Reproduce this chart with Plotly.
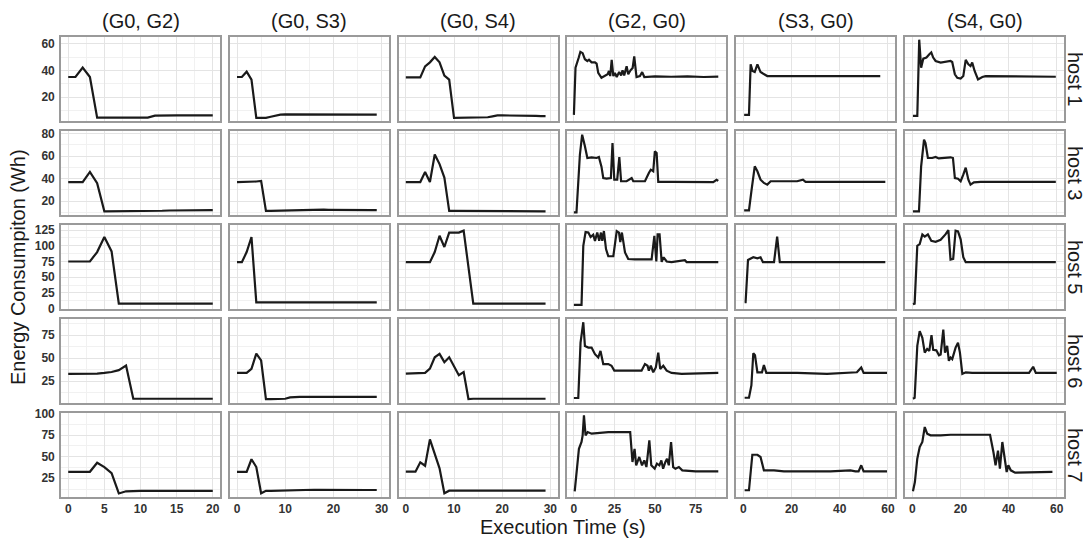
import plotly.graph_objects as go

# ---------------- data ----------------
col_titles = ["(G0, G2)", "(G0, S3)", "(G0, S4)", "(G2, G0)", "(S3, G0)", "(S4, G0)"]
row_titles = ["host 1", "host 3", "host 5", "host 6", "host 7"]

# (G0, G2)
t_g0g2 = [0,1,2,3,4,5,6,7,8,9,10,11,12,13,14,15,16,17,18,19,20]
e_g0g2_h1 = [35,35,42,35,4.5,4.5,4.5,4.5,4.5,4.5,4.5,4.5,6,6.2,6.2,6.2,6.2,6.2,6.2,6.2,6.2]
e_g0g2_h3 = [37,37,37,46,36,11,11,11,11,11,11,11.3,11.5,11.5,11.7,11.8,12,12,12,12,12]
e_g0g2_h5 = [75,75,75,75,90,114,91,8,8,8,8,8,8,8,8,8,8,8,8,8,8]
e_g0g2_h6 = [33,33,33,33,33.3,34,35,37,42,6,6,6,6,6,6,6,6,6,6,6,6]
e_g0g2_h7 = [32.5,32.5,32.5,32.5,43,38,31,7.5,10,10.5,10.5,10.5,10.5,10.5,10.5,10.5,10.5,10.5,10.5,10.5,10.5]

# (G0, S3)
t_g0s3 = [0,1,2,3,4,5,6,7,8,9,10,11,12,13,14,15,16,17,18,19,20,21,22,23,24,25,26,27,28,29]
e_g0s3_h1 = [35,35,39,33,4.3,4.3,4.3,5.2,6.2,6.8,7,7,7,7,7,7,7,7,7,7,7,7,6.8,6.8,6.6,6.5,6.5,6.5,6.8,6.8]
e_g0s3_h3 = [37,37,37,37,37.5,38,11.3,11.3,11.4,11.5,11.8,12,12.2,12.4,12.5,12.5,12.5,12.5,12.4,12.3,12.2,12.1,12,12,12,12,12,12,12,12]
e_g0s3_h5 = [74,74,90,114,10,10,10,10,10,10,10,10,10,10,10,10,10,10,10,10,10,10,10,10,10,10,10,10,10,10]
e_g0s3_h6 = [34,34,34,38.5,55,47.5,5.7,5.7,5.7,5.8,6,7.5,8,8,8,8,8,8,8,8,8,8,8,8,8,8,8,8,8,8]
e_g0s3_h7 = [32.5,32.5,32.5,47,38,7.7,10.5,10.5,10.7,10.8,11,11.2,11.5,11.8,12,12,11.8,11.7,11.6,11.5,11.5,11.5,11.5,11.5,11.5,11.5,11.5,11.5,11.5,11.5]

# (G0, S4)
t_g0s4 = [0,1,2,3,4,5,6,7,8,9,10,11,12,13,14,15,16,17,18,19,20,21,22,23,24,25,26,27,28,29]
e_g0s4_h1 = [34.7,34.7,34.7,34.7,43,46,50,46,36,33,4.3,4.3,4.3,4.3,4.3,4.3,4.5,4.8,5.5,6.2,6.2,6.2,6.2,6.2,6.2,6.1,6,5.8,5.6,5.6]
e_g0s4_h3 = [37,37,37,37,46,37,61.5,53,41,11.3,11.3,11.3,11.4,11.4,11.5,11.5,11.5,11.5,11.5,11.5,11.5,11.5,11.4,11.4,11.3,11.3,11.2,11.1,11,11]
e_g0s4_h5 = [74,74,74,74,74,74,90,116,98,121,121,121,124,66,8,8,8,8,8,8,8,8,8,8,8,8,8,8,8,8]
e_g0s4_h6 = [33.3,33.3,33.3,33.3,34,38.6,51,54.7,45.7,51,42,31.5,35,5.7,6,6,6,6,6,6,6,6,6,6,6,6,6,6,6,6]
e_g0s4_h7 = [32.6,32.6,32.6,43.5,39.5,70,52,36.5,7.7,10.7,10.7,10.7,10.7,10.7,10.7,10.7,10.7,10.7,10.7,10.7,10.7,10.7,10.7,10.7,10.7,10.7,10.7,10.7,10.7,10.7]

# (G2, G0)
t_g2g0_h1 = [0,1,3,4,5.4,6.8,8.3,9.3,10.9,13,14,15,17,19,20.8,21.6,22.4,23.3,24.3,25.3,26.4,27.9,29.1,30,31,32.5,33.5,34.9,36.2,37.2,38.6,40.7,42.1,43.4,50,60,70,80,89]
e_g2g0_h1 = [6.6,42,49.6,53.9,52.9,48.3,47,48,46,46,45,38.2,34.4,35.7,37,39.5,35.7,47.9,35.7,38,35,38.7,36.2,40,36.2,43.1,37,40,41.8,50.4,35,35.7,38.7,35,35.5,35.2,35.5,35,35.3]
t_g2g0_h3 = [0,1.6,3.7,5.1,6.8,8.3,10.9,14,15.4,17,18.1,20.1,22.8,23.8,24.9,26.7,28,29.1,32.5,35.6,36.6,43.8,46.2,47.4,48.9,49.9,51,52,60.2,74.6,85.9,87.9,89]
e_g2g0_h3 = [10.1,10.1,61.3,79.1,68.8,58.4,58.9,58.4,59.3,50.7,40.6,40,40.6,71.7,39.1,39.1,59.3,37.7,37.7,40.6,37.7,37.7,45,48,46.6,64.3,62.8,37.1,37.1,37,37,39,38]
t_g2g0_h5 = [0,4.7,5.8,7.2,8.9,10.3,11.9,13,14.4,15.6,16.7,17.5,18.5,19.8,21.2,24.3,26.4,27.8,28.6,29.6,31.5,33.5,37.6,47.9,49.6,50.8,51.6,52.8,54.1,55.3,57.2,60.2,68.4,69.5,82.8,89]
e_g2g0_h5 = [6.2,6.2,100,121.9,121,114,117.6,107.8,121,108,121,107.8,123.4,94.7,83.3,83.3,123.4,121,106,121,89.5,79,78.5,78.5,115.6,75,118,118,74.5,81.7,75,74,77,74,74,74]
t_g2g0_h6 = [0,2.7,4.1,5.8,6.8,8.9,10.9,13,15,16.4,18.1,21.2,23.2,24.9,33.5,41.7,43.8,45.4,46.2,47.4,48.9,50.5,52,53.2,55.1,57.2,60.2,66.4,89]
e_g2g0_h6 = [6.8,6.8,66.8,89,63.3,61.5,61.5,54.3,50.7,57.9,43.6,43.6,41.8,36.5,36.5,36.5,43.6,41.8,36.5,41.8,34.7,40,56.1,38.3,41.8,36.5,34,33,34]
t_g2g0_h7 = [0.5,1.6,3.1,4.7,5.4,6.2,7.2,8.5,10.9,21.2,34.7,36.1,37.4,38.4,40.3,42,43.4,44.7,46.5,47.7,49.8,51.2,52.7,53.9,55,56.4,57.4,58.5,59.9,61.2,62.6,64.7,66.8,75,89]
e_g2g0_h7 = [10,28.5,59,66.9,74.6,97.7,74.6,78.4,76.5,78.4,78.4,43.8,59,40,49.6,40,45.7,38,68.8,40,36.1,41.9,40,45.7,36.1,43.8,47.6,40,66.9,38,36.1,38,34.2,33,33]

# (S3, G0)
t_s3g0_h1 = [0.3,2.3,3,3.8,4.7,5.8,7.1,8.5,9.9,22.3,36.1,56.8]
e_s3g0_h1 = [6.6,6.6,44.5,39.5,38.7,44.5,38.7,37,35.7,35.7,35.7,35.7]
t_s3g0_h3 = [0.3,2.3,3.3,4.7,5.8,7.1,8.5,9.9,11.3,22.3,24.7,25.8,36.1,58.9]
e_s3g0_h3 = [11.9,11.9,28.8,51,46.6,39.1,36.2,34.7,37.7,37.7,39.1,37.1,37.1,37.1]
t_s3g0_h5 = [0.5,0.9,1.9,3,4.1,5.8,7.1,8.1,12.7,14,15.1,22.3,58.9]
e_s3g0_h5 = [10.3,10.3,77.5,79,81.7,80,81.7,73.9,73.9,114.5,73.9,73.9,73.9]
t_s3g0_h6 = [0.5,2.3,3.3,4.1,4.8,5.8,7.7,8.5,9.5,22.3,34.7,47.1,48.9,49.9,59.6]
e_s3g0_h6 = [7.1,7.1,20.4,55.4,53.2,34.7,34.7,42.5,34,34,33,34.7,40,34,34]
t_s3g0_h7 = [0.5,2.3,3.7,5.8,7.1,7.9,8.5,12.7,16.8,36.1,44.4,46.5,47.8,48.9,49.9,59.6]
e_s3g0_h7 = [11.2,11.2,52.2,52.2,49.6,40,34.2,34.2,33,33,34.2,33,33,40,33,33]

# (S4, G0)
t_s4g0_h1 = [0.3,2.1,2.9,3.7,4.6,5.9,7.1,7.9,8.7,9.7,11.8,14.5,15.9,16.6,17.7,18.7,20.1,21.2,22.2,23.3,24.2,24.9,25.9,27.3,29.1,30.5,43.6,59.6]
e_s4g0_h1 = [5.8,5.8,63,42,48.8,49.6,52.1,53.4,49.6,47,45.8,46.3,47,46.3,37,34.4,33.9,35.7,47.8,44.5,43.2,45.8,39.5,33.2,35,35.7,35.7,35.2]
t_s4g0_h3 = [0.3,2.8,3.7,4.9,5.5,6.5,8.3,9.7,11,13.1,15.9,16.9,17.7,19,20.1,21.2,22.2,23.3,24.2,25.6,28.4,59.6]
e_s4g0_h3 = [11,11,51,74.7,71.7,58.4,58.4,59.3,58,58.4,59,58.4,40.6,40,37.7,43.6,49.8,39.1,34.7,36.7,37.1,37.1]
t_s4g0_h5 = [0.3,1,2.1,3.1,4.2,5.2,6.5,7.9,9.7,11.8,13.8,15,15.9,17,18,19,20.1,21.2,22.2,28.4,36.7,50.6,59.6]
e_s4g0_h5 = [7.2,8,100,102.6,118,114.5,118,107.8,106.3,109.4,118,125,78,79,124,123,110.3,81.7,73.9,73.9,74.5,73.9,73.9]
t_s4g0_h6 = [0.3,1,2.1,3.1,4.2,5.2,6.2,7.1,8,8.7,10,11.1,11.8,12.9,13.6,14.5,15.2,15.9,16.6,18,19,19.8,20.8,22.2,24.9,36.7,48.5,50.2,51.3,60]
e_s4g0_h6 = [6.1,7,63.3,79.3,72.2,56.1,60,57.9,75,59,58.5,53.2,54,81,56,63.3,47.2,50.7,49,61.5,66.8,56.1,32.9,34.7,34,34,34,40.7,34,34]
t_s4g0_h7 = [0.3,1.1,2.1,3.1,4.2,5.2,6.2,7.6,11.8,15.9,22.9,32.3,33.7,34.6,35.6,36.4,37.4,38.5,39.2,39.9,40.9,42.7,50.6,58.2]
e_s4g0_h7 = [10,20.7,47.6,61.1,66.9,84.2,76.5,74.6,74.6,75.3,75.3,75.3,55.3,40,57,36.1,66.9,47.6,32.3,40,34.2,31.5,31.5,32.3]

# axis scales
x_ranges = [[-1, 21], [-1.5, 31.5], [-1.5, 31.5], [-4, 94], [-3, 63], [-3, 63]]
x_dticks = [5, 10, 10, 25, 20, 20]
y_ranges = [[2, 65], [7.7, 82.4], [-0.5, 133], [1.4, 92.5], [3.4, 100.4]]
y_dticks = [20, 20, 25, 25, 25]

panels = [
    [(t_g0g2, e_g0g2_h1), (t_g0s3, e_g0s3_h1), (t_g0s4, e_g0s4_h1), (t_g2g0_h1, e_g2g0_h1), (t_s3g0_h1, e_s3g0_h1), (t_s4g0_h1, e_s4g0_h1)],
    [(t_g0g2, e_g0g2_h3), (t_g0s3, e_g0s3_h3), (t_g0s4, e_g0s4_h3), (t_g2g0_h3, e_g2g0_h3), (t_s3g0_h3, e_s3g0_h3), (t_s4g0_h3, e_s4g0_h3)],
    [(t_g0g2, e_g0g2_h5), (t_g0s3, e_g0s3_h5), (t_g0s4, e_g0s4_h5), (t_g2g0_h5, e_g2g0_h5), (t_s3g0_h5, e_s3g0_h5), (t_s4g0_h5, e_s4g0_h5)],
    [(t_g0g2, e_g0g2_h6), (t_g0s3, e_g0s3_h6), (t_g0s4, e_g0s4_h6), (t_g2g0_h6, e_g2g0_h6), (t_s3g0_h6, e_s3g0_h6), (t_s4g0_h6, e_s4g0_h6)],
    [(t_g0g2, e_g0g2_h7), (t_g0s3, e_g0s3_h7), (t_g0s4, e_g0s4_h7), (t_g2g0_h7, e_g2g0_h7), (t_s3g0_h7, e_s3g0_h7), (t_s4g0_h7, e_s4g0_h7)],
]

# ---------------- layout geometry (page pixels) ----------------
OFF = 8                      # default body margin of the page
W, H = 1091 - OFF, 540 - OFF  # figure size so it fits the window exactly
col_left = [61, 229.8, 398.6, 567.4, 736.2, 905]
panel_w = 159
row_top = [37, 131, 225, 319, 413]
panel_h = 84


def px(x):
    return (x - OFF) / W


def py(y):
    return 1 - (y - OFF) / H


FONT = "Liberation Sans, Arial, Helvetica, sans-serif"
BORDER = "#9a9a9a"
GRID = "#e4e4e4"
MINOR = "#f1f1f1"
TICKFONT = dict(family=FONT, size=12, color="#333333", weight="bold")
TITLE_SIZE = 20

fig = go.Figure()
layout = dict(
    width=W, height=H,
    margin=dict(l=0, r=0, t=0, b=0),
    paper_bgcolor="white", plot_bgcolor="white",
    showlegend=False,
    font=dict(family=FONT),
)

for r in range(5):
    for c in range(6):
        k = r * 6 + c + 1
        xs, ys = panels[r][c]
        xa = "x" if k == 1 else f"x{k}"
        ya = "y" if k == 1 else f"y{k}"
        fig.add_trace(go.Scatter(x=xs, y=ys, mode="lines", xaxis=xa, yaxis=ya,
                                 line=dict(color="#1a1a1a", width=2.2), hoverinfo="skip"))
        xkey = "xaxis" if k == 1 else f"xaxis{k}"
        ykey = "yaxis" if k == 1 else f"yaxis{k}"
        layout[xkey] = dict(
            domain=[px(col_left[c]), px(col_left[c] + panel_w)], anchor=ya,
            range=x_ranges[c], dtick=x_dticks[c], tick0=0,
            showgrid=True, gridcolor=GRID, gridwidth=1.3, zeroline=False,
            minor=dict(dtick=x_dticks[c] / 2, tick0=0, showgrid=True, gridcolor=MINOR, gridwidth=0.7),
            showline=True, mirror=True, linecolor=BORDER, linewidth=1.6,
            showticklabels=(r == 4), ticks="", ticklabelstandoff=0,
            tickfont=TICKFONT, automargin=False, fixedrange=True,
        )
        layout[ykey] = dict(
            domain=[py(row_top[r] + panel_h), py(row_top[r])], anchor=xa,
            range=y_ranges[r], dtick=y_dticks[r], tick0=0,
            showgrid=True, gridcolor=GRID, gridwidth=1.3, zeroline=False,
            minor=dict(dtick=y_dticks[r] / 2, tick0=0, showgrid=True, gridcolor=MINOR, gridwidth=0.7),
            showline=True, mirror=True, linecolor=BORDER, linewidth=1.6,
            showticklabels=(c == 0), ticks="", ticklabelstandoff=2,
            tickfont=TICKFONT, automargin=False, fixedrange=True,
        )

annotations = []
for c, name in enumerate(col_titles):
    annotations.append(dict(
        text=name, xref="paper", yref="paper",
        x=px(col_left[c] + panel_w / 2), y=py(21),
        xanchor="center", yanchor="middle", showarrow=False,
        font=dict(family=FONT, size=TITLE_SIZE, color="#1a1a1a")))
for r, name in enumerate(row_titles):
    annotations.append(dict(
        text=name, xref="paper", yref="paper",
        x=px(1075), y=py(row_top[r] + panel_h / 2),
        xanchor="center", yanchor="middle", showarrow=False, textangle=90,
        font=dict(family=FONT, size=TITLE_SIZE, color="#1a1a1a")))
annotations.append(dict(
    text="Energy Consumpiton (Wh)", xref="paper", yref="paper",
    x=px(18), y=py(267), xanchor="center", yanchor="middle",
    showarrow=False, textangle=-90,
    font=dict(family=FONT, size=TITLE_SIZE, color="#1a1a1a")))
annotations.append(dict(
    text="Execution Time (s)", xref="paper", yref="paper",
    x=px((61 + 1064) / 2), y=py(527), xanchor="center", yanchor="middle",
    showarrow=False,
    font=dict(family=FONT, size=TITLE_SIZE, color="#1a1a1a")))
layout["annotations"] = annotations

fig.update_layout(**layout)
fig.write_html(
    "out.html",
    post_script="document.documentElement.style.overflow='hidden';document.body.style.overflow='hidden';",
)
